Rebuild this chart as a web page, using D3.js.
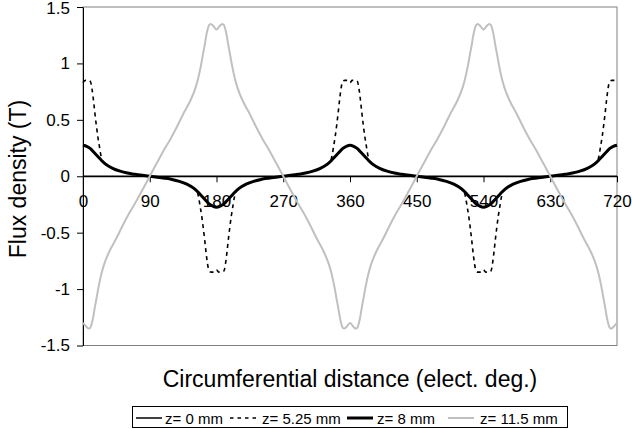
<!DOCTYPE html>
<html>
<head>
<meta charset="utf-8">
<script src="https://cdn.jsdelivr.net/npm/d3@7"></script>
<style>
  body { margin: 0; background: #fff; }
  svg { display: block; font-family: Arial, "Liberation Sans", sans-serif; }
</style>
</head>
<body>
<svg id="chart" width="632" height="429"></svg>
<script>
// electrical degrees on the x axis
const xTicks = [0, 90, 180, 270, 360, 450, 540, 630, 720];
const yTicks = [-1.5, -1, -0.5, 0, 0.5, 1, 1.5];
const seriesNames = ['z= 0 mm', 'z= 5.25 mm', 'z= 8 mm', 'z= 11.5 mm'];

// z = 0 mm (sits on the zero line)
const deg0 = [0, 90, 180, 270, 360, 450, 540, 630, 720];
const b0 = [0, 0, 0, 0, 0, 0, 0, 0, 0];

// z = 5.25 mm (dashed)
const deg525 = [0,3,7,10,12,14,16,18,20,22,24,26,30,40,50,60,70,80,90,100,110,120,130,140,150,154,156,158,160,162,164,166,168,170,173,177,180,183,187,190,192,194,196,198,200,202,204,206,210,220,230,240,250,260,270,280,290,300,310,320,330,334,336,338,340,342,344,346,348,350,353,357,360,363,367,370,372,374,376,378,380,382,384,386,390,400,410,420,430,440,450,460,470,480,490,500,510,514,516,518,520,522,524,526,528,530,533,537,540,543,547,550,552,554,556,558,560,562,564,566,570,580,590,600,610,620,630,640,650,660,670,680,690,694,696,698,700,702,704,706,708,710,713,717,720];
const b525 = [0.83,0.85,0.85,0.84,0.78,0.68,0.56,0.45,0.35,0.27,0.19,0.14,0.11,0.07,0.045,0.028,0.017,0.008,0,-0.008,-0.017,-0.028,-0.045,-0.07,-0.11,-0.14,-0.19,-0.27,-0.35,-0.45,-0.56,-0.68,-0.78,-0.84,-0.85,-0.85,-0.83,-0.85,-0.85,-0.84,-0.78,-0.68,-0.56,-0.45,-0.35,-0.27,-0.19,-0.14,-0.11,-0.07,-0.045,-0.028,-0.017,-0.008,0,0.008,0.017,0.028,0.045,0.07,0.11,0.14,0.19,0.27,0.35,0.45,0.56,0.68,0.78,0.84,0.85,0.85,0.83,0.85,0.85,0.84,0.78,0.68,0.56,0.45,0.35,0.27,0.19,0.14,0.11,0.07,0.045,0.028,0.017,0.008,0,-0.008,-0.017,-0.028,-0.045,-0.07,-0.11,-0.14,-0.19,-0.27,-0.35,-0.45,-0.56,-0.68,-0.78,-0.84,-0.85,-0.85,-0.83,-0.85,-0.85,-0.84,-0.78,-0.68,-0.56,-0.45,-0.35,-0.27,-0.19,-0.14,-0.11,-0.07,-0.045,-0.028,-0.017,-0.008,0,0.008,0.017,0.028,0.045,0.07,0.11,0.14,0.19,0.27,0.35,0.45,0.56,0.68,0.78,0.84,0.85,0.85,0.83];

// z = 8 mm (thick black)
const deg8 = [0,5,10,15,20,25,30,40,50,60,70,80,90,100,110,120,130,140,150,155,160,165,170,175,180,185,190,195,200,205,210,220,230,240,250,260,270,280,290,300,310,320,330,335,340,345,350,355,360,365,370,375,380,385,390,400,410,420,430,440,450,460,470,480,490,500,510,515,520,525,530,535,540,545,550,555,560,565,570,580,590,600,610,620,630,640,650,660,670,680,690,695,700,705,710,715,720];
const b8 = [0.275,0.265,0.245,0.21,0.175,0.14,0.11,0.07,0.045,0.028,0.017,0.008,0,-0.008,-0.017,-0.028,-0.045,-0.07,-0.11,-0.14,-0.175,-0.21,-0.245,-0.265,-0.275,-0.265,-0.245,-0.21,-0.175,-0.14,-0.11,-0.07,-0.045,-0.028,-0.017,-0.008,0,0.008,0.017,0.028,0.045,0.07,0.11,0.14,0.175,0.21,0.245,0.265,0.275,0.265,0.245,0.21,0.175,0.14,0.11,0.07,0.045,0.028,0.017,0.008,0,-0.008,-0.017,-0.028,-0.045,-0.07,-0.11,-0.14,-0.175,-0.21,-0.245,-0.265,-0.275,-0.265,-0.245,-0.21,-0.175,-0.14,-0.11,-0.07,-0.045,-0.028,-0.017,-0.008,0,0.008,0.017,0.028,0.045,0.07,0.11,0.14,0.175,0.21,0.245,0.265,0.275];

// z = 11.5 mm (grey)
const deg115 = [0,4,8,10,12,14,16,18,21,25,28,36,45,54,63,72,81,90,99,108,117,126,135,144,152,155,159,162,164,166,168,170,172,176,180,184,188,190,192,194,196,198,201,205,208,216,225,234,243,252,261,270,279,288,297,306,315,324,332,335,339,342,344,346,348,350,352,356,360,364,368,370,372,374,376,378,381,385,388,396,405,414,423,432,441,450,459,468,477,486,495,504,512,515,519,522,524,526,528,530,532,536,540,544,548,550,552,554,556,558,561,565,568,576,585,594,603,612,621,630,639,648,657,666,675,684,692,695,699,702,704,706,708,710,712,716,720];
const b115 = [-1.30,-1.33,-1.35,-1.34,-1.30,-1.24,-1.16,-1.09,-0.98,-0.86,-0.79,-0.66,-0.55,-0.43,-0.32,-0.22,-0.11,0,0.11,0.22,0.32,0.43,0.55,0.66,0.79,0.86,0.98,1.09,1.16,1.24,1.30,1.34,1.35,1.33,1.30,1.33,1.35,1.34,1.30,1.24,1.16,1.09,0.98,0.86,0.79,0.66,0.55,0.43,0.32,0.22,0.11,0,-0.11,-0.22,-0.32,-0.43,-0.55,-0.66,-0.79,-0.86,-0.98,-1.09,-1.16,-1.24,-1.30,-1.34,-1.35,-1.33,-1.30,-1.33,-1.35,-1.34,-1.30,-1.24,-1.16,-1.09,-0.98,-0.86,-0.79,-0.66,-0.55,-0.43,-0.32,-0.22,-0.11,0,0.11,0.22,0.32,0.43,0.55,0.66,0.79,0.86,0.98,1.09,1.16,1.24,1.30,1.34,1.35,1.33,1.30,1.33,1.35,1.34,1.30,1.24,1.16,1.09,0.98,0.86,0.79,0.66,0.55,0.43,0.32,0.22,0.11,0,-0.11,-0.22,-0.32,-0.43,-0.55,-0.66,-0.79,-0.86,-0.98,-1.09,-1.16,-1.24,-1.30,-1.34,-1.35,-1.33,-1.30];

const styles = [
  {color:'#000', width:1.3, dash:null},
  {color:'#000', width:1.6, dash:'4,4'},
  {color:'#000', width:3, dash:null},
  {color:'#c0c0c0', width:2, dash:null}
];

const svg = d3.select('#chart');
const x = d3.scaleLinear().domain([0, 720]).range([83, 617]);
const y = d3.scaleLinear().domain([-1.5, 1.5]).range([345.5, 7]);

// plot area frame
svg.append('rect')
  .attr('x', x(0)).attr('y', y(1.5))
  .attr('width', x(720) - x(0)).attr('height', y(-1.5) - y(1.5))
  .attr('fill', 'none').attr('stroke', '#808080').attr('stroke-width', 1);

const yAxis = svg.append('g').attr('transform', `translate(${x(0)},0)`)
  .call(d3.axisLeft(y).tickValues(yTicks).tickSize(6).tickSizeOuter(0).tickPadding(7).tickFormat(d => String(d)));
const xAxis = svg.append('g').attr('transform', `translate(0,${y(0)})`)
  .call(d3.axisBottom(x).tickValues(xTicks).tickSize(6).tickSizeOuter(0).tickPadding(13).tickFormat(d => String(d)));
[yAxis, xAxis].forEach(a => {
  a.selectAll('text').style('font-size', '17px').attr('fill', '#000');
  a.selectAll('line,path').attr('stroke', '#000');
});
// keep the top label inside the window
yAxis.selectAll('.tick text').filter(d => d === 1.5).attr('dy', '0.4em');

const line = d3.line().x(d => x(d[0])).y(d => y(d[1])).curve(d3.curveMonotoneX);
const series = [
  d3.zip(deg0, b0),
  d3.zip(deg525, b525),
  d3.zip(deg8, b8),
  d3.zip(deg115, b115)
];
series.forEach((s, i) => {
  svg.append('path').datum(s)
    .attr('fill', 'none')
    .attr('stroke', styles[i].color)
    .attr('stroke-width', styles[i].width)
    .attr('stroke-dasharray', styles[i].dash)
    .attr('stroke-linejoin', 'round')
    .attr('d', line);
});

// axis titles
svg.append('text')
  .attr('x', 350).attr('y', 387)
  .attr('text-anchor', 'middle')
  .style('font-size', '23px')
  .text('Circumferential distance (elect. deg.)');

svg.append('text')
  .attr('transform', 'rotate(-90)')
  .attr('x', -179).attr('y', 26)
  .attr('text-anchor', 'middle')
  .style('font-size', '23px')
  .text('Flux density (T)');

// legend
const leg = svg.append('g');
leg.append('rect').attr('x', 132.5).attr('y', 406.5).attr('width', 435).attr('height', 21)
  .attr('fill', '#fff').attr('stroke', '#000').attr('stroke-width', 1);
const legPos = [[136, 165], [230, 262], [347, 377], [448, 480]];
seriesNames.forEach((name, i) => {
  leg.append('line')
    .attr('x1', legPos[i][0]).attr('x2', legPos[i][0] + (i === 1 ? 28 : 26))
    .attr('y1', 418).attr('y2', 418)
    .attr('stroke', styles[i].color)
    .attr('stroke-width', i === 0 ? 1.5 : styles[i].width)
    .attr('stroke-dasharray', i === 1 ? '3.5,4' : null);
  leg.append('text')
    .attr('x', legPos[i][1]).attr('y', 423.5)
    .style('font-size', '15px')
    .text(name);
});
</script>
</body>
</html>
